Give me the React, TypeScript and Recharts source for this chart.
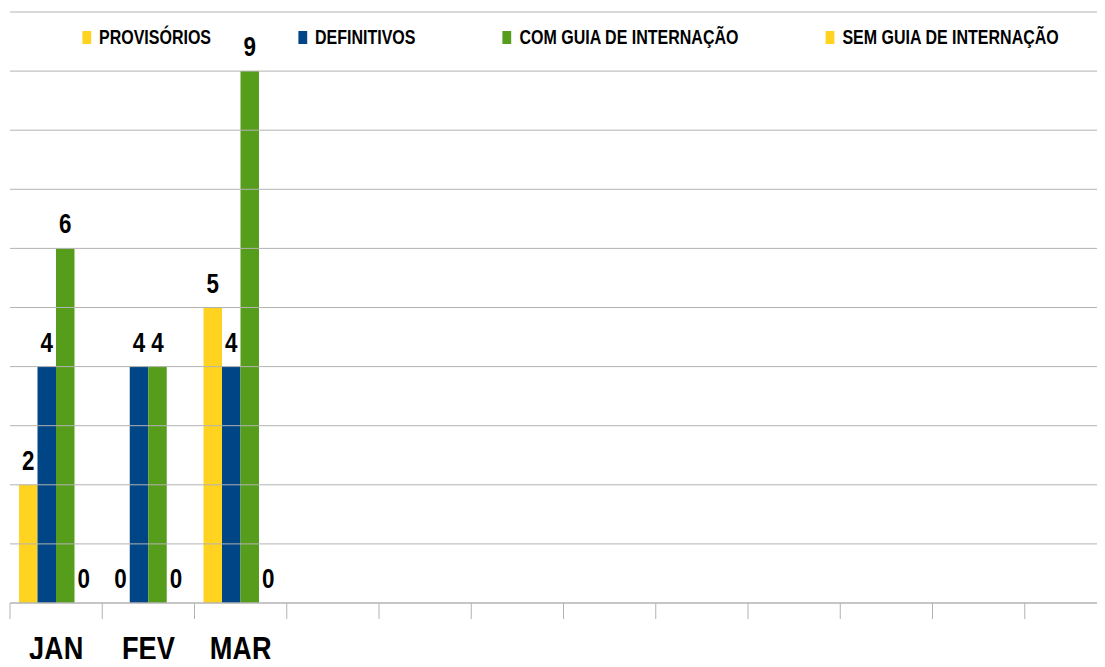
import {
  Bar,
  BarChart,
  LabelList,
  Legend,
  ReferenceLine,
  XAxis,
  YAxis,
} from "recharts";

const months = ["JAN", "FEV", "MAR", "ABR", "MAI", "JUN", "JUL", "AGO", "SET", "OUT", "NOV", "DEZ"];
const tickLabels = ["JAN", "FEV", "MAR", "", "", "", "", "", "", "", "", ""];

const provisorios = [2, 0, 5];
const definitivos = [4, 4, 4];
const comGuia = [6, 4, 9];
const semGuia = [0, 0, 0];

const yTicks = [0, 1, 2, 3, 4, 5, 6, 7, 8, 9, 10];

const series = [
  { key: "provisorios", name: "PROVISÓRIOS", color: "#ffd320" },
  { key: "definitivos", name: "DEFINITIVOS", color: "#004586" },
  { key: "comGuia", name: "COM GUIA DE INTERNAÇÃO", color: "#579d1c" },
  { key: "semGuia", name: "SEM GUIA DE INTERNAÇÃO", color: "#ffd320" },
];

const rows = months.map((m, i) => ({
  month: m,
  provisorios: provisorios[i] ?? null,
  definitivos: definitivos[i] ?? null,
  comGuia: comGuia[i] ?? null,
  semGuia: semGuia[i] ?? null,
}));

// Arial Narrow look: Liberation Sans squeezed horizontally
const FONT = '"Liberation Sans", Arial, sans-serif';
const NARROW = 0.8;
const GRID = "#b3b3b3";

const CHART_W = 1109;
const CHART_H = 659;
const MARGIN = { top: 4, right: 0, bottom: 0, left: 2 };
const BAND = (CHART_W - MARGIN.left - MARGIN.right) / months.length;

function NarrowText({ x, y, size, children }: any) {
  return (
    <text
      transform={`translate(${x},${y}) scale(${NARROW},1)`}
      textAnchor="middle"
      fontFamily={FONT}
      fontWeight="bold"
      fontSize={size}
      fill="#000"
    >
      {children}
    </text>
  );
}

function MonthTick(props: any) {
  const { x, y, index } = props;
  const left = x - BAND / 2;
  return (
    <g>
      <line x1={left} y1={y} x2={left} y2={y + 16} stroke={GRID} />
      {index === months.length - 1 && (
        <line x1={x + BAND / 2} y1={y} x2={x + BAND / 2} y2={y + 16} stroke={GRID} />
      )}
      <NarrowText x={x} y={y + 57} size={34}>
        {tickLabels[index]}
      </NarrowText>
    </g>
  );
}

function ValueLabel(props: any) {
  const { x, y, width, value } = props;
  if (value === null || value === undefined) return null;
  return (
    <NarrowText x={x + width / 2} y={y - 15} size={28}>
      {value}
    </NarrowText>
  );
}

function LegendBox() {
  return (
    <div
      style={{
        display: "flex",
        alignItems: "center",
        height: 22,
        paddingLeft: 74 / NARROW,
        gap: 87 / NARROW,
        transform: `scaleX(${NARROW})`,
        transformOrigin: "left center",
        whiteSpace: "nowrap",
      }}
    >
      {series.map((s) => (
        <div key={s.key} style={{ display: "flex", alignItems: "center" }}>
          <span
            style={{ width: 9 / NARROW, height: 13, background: s.color, marginRight: 8 / NARROW }}
          />
          <span style={{ fontFamily: FONT, fontWeight: "bold", fontSize: 20, color: "#000" }}>
            {s.name}
          </span>
        </div>
      ))}
    </div>
  );
}

export default function App() {
  return (
    <div style={{ width: 1097, height: CHART_H, marginBottom: -8, overflow: "hidden" }}>
      <BarChart width={CHART_W} height={CHART_H} data={rows} margin={MARGIN} barGap={0}>
        {yTicks.map((v) => (
          <ReferenceLine key={v} y={v} stroke={GRID} />
        ))}
        <XAxis
          dataKey="month"
          height={64}
          axisLine={{ stroke: GRID }}
          tickLine={false}
          tickSize={0}
          tickMargin={0}
          interval={0}
          tick={<MonthTick />}
        />
        <YAxis
          width={0}
          domain={[0, 10]}
          ticks={yTicks}
          tick={false}
          tickLine={false}
          axisLine={{ stroke: GRID }}
        />
        <Legend
          layout="horizontal"
          verticalAlign="middle"
          align="center"
          wrapperStyle={{ top: 18, left: 0, width: CHART_W }}
          content={<LegendBox />}
        />
        {series.map((s) => (
          <Bar
            key={s.key}
            dataKey={s.key}
            name={s.name}
            fill={s.color}
            barSize={18.5}
            minPointSize={0.01}
            isAnimationActive={false}
          >
            <LabelList dataKey={s.key} content={<ValueLabel />} />
          </Bar>
        ))}
      </BarChart>
    </div>
  );
}
